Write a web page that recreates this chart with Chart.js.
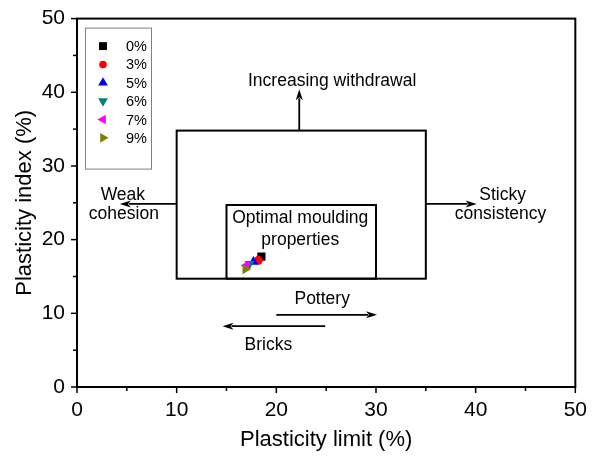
<!DOCTYPE html>
<html>
<head>
<meta charset="utf-8">
<script src="https://cdn.jsdelivr.net/npm/chart.js@4.4.1/dist/chart.umd.min.js"></script>
<style>
  html, body { margin: 0; padding: 0; background: #fff; }
</style>
</head>
<body>
<canvas id="c" width="592" height="459"></canvas>
<script>
// Additive content of each mix
const seriesLabels = ['0%', '3%', '5%', '6%', '7%', '9%'];
// Atterberg results per mix
const plasticLimit    = [18.5, 18.2, 17.7, 17.3, 17.0, 16.9];
const plasticityIndex = [17.7, 17.2, 17.0, 16.7, 16.5, 16.0];
// Axis ticks
const xTickValues = [0, 10, 20, 30, 40, 50];
const yTickValues = [0, 10, 20, 30, 40, 50];

// Marker styles per series
const markerColors = ['#000000', '#ff0000', '#0000ff', '#008080', '#ff00ff', '#808000'];
const markerShapes = ['rect', 'circle', 'triangle', 'triangle', 'triangle', 'triangle'];
const markerRotation = [0, 0, 0, 180, 270, 90];
const markerRadius = [5.8, 4.4, 5.8, 5.8, 5.8, 5.8];

// Workability zones (plastic limit x1..x2, plasticity index y1..y2)
const outerZone = [10, 35, 14.7, 34.8];
const innerZone = [15, 30, 14.7, 24.7];
// Arrows: tail x, tail y, head x, head y
const arrowLines = [
  [22.3, 34.8, 22.3, 40.4],
  [10, 24.85, 4.3, 24.85],
  [35, 24.85, 40.1, 24.85],
  [20, 9.8, 30.1, 9.8],
  [24.9, 8.25, 14.6, 8.25]
];
// Zone annotations (centre x, baseline y)
const noteTexts = ['Increasing withdrawal', 'Optimal moulding', 'properties', 'Weak', 'cohesion',
                   'Sticky', 'consistency', 'Pottery', 'Bricks'];
const noteX = [25.6, 22.4, 22.4, 4.6, 4.7, 42.7, 42.5, 24.6, 19.2];
const noteY = [40.8, 22.2, 19.3, 25.4, 22.8, 25.4, 22.8, 11.3, 5.0];

const FONT = "'Liberation Sans', Arial, sans-serif";

const datasets = seriesLabels.map((lab, i) => ({
  label: lab,
  data: [{ x: plasticLimit[i], y: plasticityIndex[i] }],
  backgroundColor: markerColors[i],
  borderColor: markerColors[i],
  borderWidth: 0,
  pointStyle: markerShapes[i],
  rotation: markerRotation[i],
  pointRadius: markerRadius[i],
  pointHoverRadius: markerRadius[i],
  order: seriesLabels.length - i
}));

function strokeLine(ctx, x0, y0, x1, y1) {
  ctx.beginPath();
  ctx.moveTo(x0, y0);
  ctx.lineTo(x1, y1);
  ctx.stroke();
}

function drawArrow(ctx, x0, y0, x1, y1) {
  const ang = Math.atan2(y1 - y0, x1 - x0);
  const headLen = 11, headHalf = 3.5;
  const bx = x1 - Math.cos(ang) * (headLen - 2);
  const by = y1 - Math.sin(ang) * (headLen - 2);
  strokeLine(ctx, x0, y0, bx, by);
  ctx.beginPath();
  ctx.moveTo(x1, y1);
  ctx.lineTo(x1 - Math.cos(ang) * headLen - Math.sin(ang) * headHalf,
             y1 - Math.sin(ang) * headLen + Math.cos(ang) * headHalf);
  ctx.lineTo(x1 - Math.cos(ang) * (headLen - 3), y1 - Math.sin(ang) * (headLen - 3));
  ctx.lineTo(x1 - Math.cos(ang) * headLen + Math.sin(ang) * headHalf,
             y1 - Math.sin(ang) * headLen - Math.cos(ang) * headHalf);
  ctx.closePath();
  ctx.fill();
}

const zonePlugin = {
  id: 'zones',
  beforeDatasetsDraw(chart) {
    const { ctx, chartArea: a } = chart;
    const xs = chart.scales.x, ys = chart.scales.y;
    ctx.save();
    ctx.strokeStyle = '#000';
    ctx.fillStyle = '#000';

    // outward tick marks, minor ticks halfway between labels
    ctx.lineWidth = 1.5;
    const step = (xTickValues[1] - xTickValues[0]) / 2;
    for (let v = xs.min; v <= xs.max + 1e-9; v += step) {
      const len = xTickValues.includes(v) ? 6 : 4;
      const px = xs.getPixelForValue(v);
      strokeLine(ctx, px, a.bottom, px, a.bottom + len);
    }
    for (let v = ys.min; v <= ys.max + 1e-9; v += step) {
      const len = yTickValues.includes(v) ? 6 : 4;
      const py = ys.getPixelForValue(v);
      strokeLine(ctx, a.left, py, a.left - len, py);
    }

    // plot frame
    ctx.lineWidth = 2;
    ctx.strokeRect(a.left, a.top, a.right - a.left, a.bottom - a.top);

    // zone rectangles
    [outerZone, innerZone].forEach(z => {
      const x1 = xs.getPixelForValue(z[0]), x2 = xs.getPixelForValue(z[1]);
      const y1 = ys.getPixelForValue(z[2]), y2 = ys.getPixelForValue(z[3]);
      ctx.strokeRect(x1, y2, x2 - x1, y1 - y2);
    });

    // arrows
    ctx.lineWidth = 1.8;
    arrowLines.forEach(l => {
      drawArrow(ctx, xs.getPixelForValue(l[0]), ys.getPixelForValue(l[1]),
                xs.getPixelForValue(l[2]), ys.getPixelForValue(l[3]));
    });

    // annotations
    ctx.font = '17.5px ' + FONT;
    ctx.textAlign = 'center';
    ctx.textBaseline = 'alphabetic';
    noteTexts.forEach((t, i) => {
      ctx.fillText(t, xs.getPixelForValue(noteX[i]), ys.getPixelForValue(noteY[i]));
    });
    ctx.restore();
  },
  afterDatasetsDraw(chart) {
    const { ctx, chartArea: a } = chart;
    ctx.save();
    // legend box
    const lx = a.left + 8, ly = a.top + 9, lw = 66, lh = 141;
    ctx.strokeStyle = '#808080';
    ctx.lineWidth = 1;
    ctx.strokeRect(lx + 0.5, ly + 0.5, lw, lh);
    ctx.font = '14.5px ' + FONT;
    ctx.textAlign = 'left';
    ctx.textBaseline = 'middle';
    seriesLabels.forEach((lab, i) => {
      const cy = ly + 18.5 + i * 18.35;
      ctx.fillStyle = markerColors[i];
      ctx.strokeStyle = markerColors[i];
      Chart.helpers.drawPoint(ctx, {
        pointStyle: markerShapes[i],
        rotation: markerRotation[i],
        radius: markerShapes[i] === 'circle' ? 3.8 : 5.6,
        borderWidth: 0
      }, lx + 18, cy);
      ctx.fillStyle = '#000';
      ctx.fillText(lab, lx + 41, cy + 1);
    });
    ctx.restore();
  }
};

new Chart(document.getElementById('c'), {
  type: 'scatter',
  data: { datasets },
  plugins: [zonePlugin],
  options: {
    responsive: false,
    animation: false,
    devicePixelRatio: 1,
    layout: { padding: { top: 16, right: 15, left: 0, bottom: 0 } },
    plugins: { legend: { display: false }, tooltip: { enabled: false } },
    scales: {
      x: {
        type: 'linear',
        min: 0, max: 50,
        afterFit(s) { s.height = 72; },
        afterBuildTicks(s) { s.ticks = xTickValues.map(v => ({ value: v })); },
        border: { display: false },
        grid: { display: true, drawOnChartArea: false, drawTicks: true, tickLength: 6, color: 'rgba(0,0,0,0)' },
        ticks: { color: '#000', padding: 5, maxRotation: 0, font: { family: FONT, size: 21 } },
        title: { display: true, text: 'Plasticity limit (%)', color: '#000',
                 font: { family: FONT, size: 22 }, padding: { top: 0, bottom: 6 } }
      },
      y: {
        type: 'linear',
        min: 0, max: 50,
        afterFit(s) { s.width = 77; },
        afterBuildTicks(s) { s.ticks = yTickValues.map(v => ({ value: v })); },
        border: { display: false },
        grid: { display: true, drawOnChartArea: false, drawTicks: true, tickLength: 6, color: 'rgba(0,0,0,0)' },
        ticks: { color: '#000', padding: 6, font: { family: FONT, size: 21 } },
        title: { display: true, text: 'Plasticity index (%)', color: '#000',
                 font: { family: FONT, size: 22 }, padding: { top: 12, bottom: 0 } }
      }
    }
  }
});
</script>
</body>
</html>
